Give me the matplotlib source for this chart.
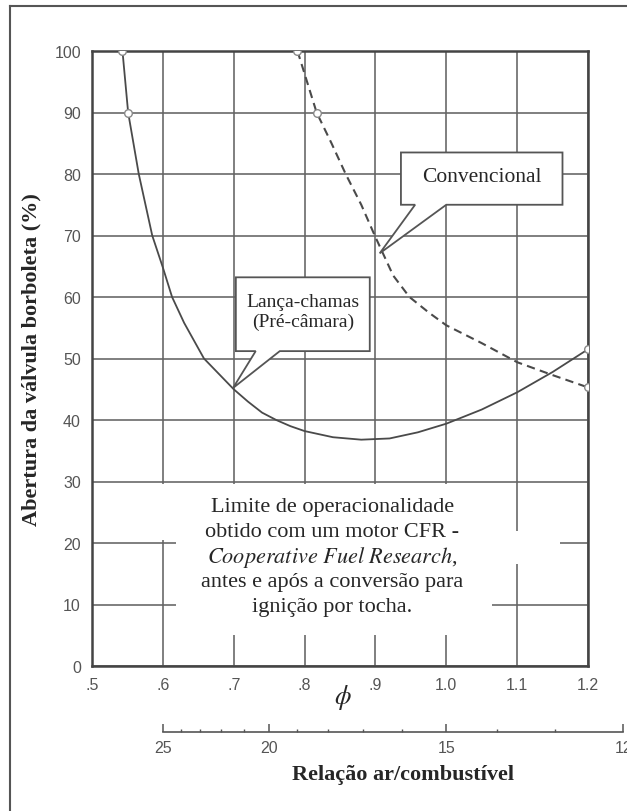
import matplotlib
matplotlib.use('Agg')
import matplotlib.pyplot as plt
from matplotlib.patches import Polygon
from matplotlib.lines import Line2D

plt.rcParams['mathtext.fontset'] = 'stix'
plt.rcParams['lines.scale_dashes'] = False

# ---------------- data ----------------
phi_torch = [0.543, 0.551, 0.566, 0.585, 0.600, 0.613, 0.630, 0.658, 0.700, 0.720,
             0.740, 0.760, 0.780, 0.800, 0.840, 0.880, 0.920, 0.960, 1.000, 1.050,
             1.100, 1.150, 1.200]
open_torch = [100, 90, 80, 70, 64.8, 60, 55.8, 50, 45.0, 43.0,
              41.2, 40.0, 39.0, 38.2, 37.2, 36.8, 37.0, 38.0, 39.4, 41.7,
              44.5, 47.8, 51.5]

phi_conv = [0.790, 0.817, 0.838, 0.858, 0.880, 0.899, 0.925, 0.948, 0.975, 1.000,
            1.050, 1.100, 1.150, 1.200]
open_conv = [100, 90, 85, 80, 75, 70, 63.5, 60, 57.5, 55.4,
             52.5, 49.4, 47.3, 45.3]

phi_ticks = [0.5, 0.6, 0.7, 0.8, 0.9, 1.0, 1.1, 1.2]
phi_labels = ['.5', '.6', '.7', '.8', '.9', '1.0', '1.1', '1.2']
open_ticks = [0, 10, 20, 30, 40, 50, 60, 70, 80, 90, 100]
afr_major = [25, 20, 15, 12]
afr_minor = [24, 23, 22, 21, 19, 18, 17, 16, 14, 13]
afr_stoich = 15.0

caption_lines = ['Limite de operacionalidade',
                 'obtido com um motor CFR -',
                 r'$\mathit{Cooperative\ Fuel\ Research}$,',
                 'antes e após a conversão para',
                 'ignição por tocha.']

# ---------------- figure ----------------
W, H = 627, 812
fig = plt.figure(figsize=(W / 100, H / 100), dpi=100)
fig.patch.set_facecolor('white')


def fx(px):
    return px / W


def fy(py):
    return 1 - py / H


serif = 'Liberation Serif'
sans = 'Liberation Sans'
ink = '#4a4a4a'
txt_col = '#262626'

ax = fig.add_axes([fx(92), fy(667), (588 - 92) / W, (667 - 52) / H])
ax.set_xlim(0.5, 1.2)
ax.set_ylim(0, 100)
ax.set_xticks(phi_ticks)
ax.set_xticklabels(phi_labels, family=sans)
ax.set_yticks(open_ticks)
ax.set_yticklabels([str(v) for v in open_ticks], family=sans)
ax.tick_params(length=0, pad=8, labelsize=11.5, labelcolor='#555555')
ax.grid(True, color='#636363', lw=1.15)
ax.set_axisbelow(True)
for s in ax.spines.values():
    s.set_linewidth(1.8)
    s.set_color('#444444')

# white area that hides the grid behind the caption
mask = Polygon([(0.595, 29.6), (1.095, 29.6), (1.095, 22), (1.16, 22), (1.16, 16.6),
                (1.095, 16.6), (1.095, 11), (1.065, 11), (1.065, 5), (0.618, 5),
                (0.618, 20.5), (0.595, 20.5)],
               closed=True, facecolor='white', edgecolor='none', zorder=1)
ax.add_patch(mask)

# curves
ax.plot(phi_torch, open_torch, color=ink, lw=1.3, zorder=3)
ax.plot(phi_conv, open_conv, color=ink, lw=1.5, dashes=(6, 3.8), zorder=3)
ax.plot(phi_torch, open_torch, ls='none', marker='o', ms=5.5, mfc='white',
        mec='#888888', mew=1.0, markevery=[0, 1, len(phi_torch) - 1], zorder=5)
ax.plot(phi_conv, open_conv, ls='none', marker='o', ms=5.5, mfc='white',
        mec='#888888', mew=1.0, markevery=[0, 1, len(phi_conv) - 1], zorder=5)

# callout boxes
box_style = dict(closed=True, facecolor='white', edgecolor='#555555', lw=1.3, zorder=4)
ax.add_patch(Polygon([(0.703, 63.2), (0.892, 63.2), (0.892, 51.2), (0.765, 51.2),
                      (0.699, 45.2), (0.731, 51.2), (0.703, 51.2)], **box_style))
ax.add_patch(Polygon([(0.936, 83.5), (1.164, 83.5), (1.164, 75.0), (1.000, 75.0),
                      (0.906, 67.1), (0.956, 75.0), (0.936, 75.0)], **box_style))

ax.text(0.798, 57.6, 'Lança-chamas\n(Pré-câmara)', family=serif, fontsize=14,
        ha='center', va='center', color=txt_col, linespacing=1.2, zorder=6)
ax.text(1.05, 79.6, 'Convencional', family=serif, fontsize=15.5,
        ha='center', va='center', color=txt_col, zorder=6)

caption_y = [25.9, 21.9, 17.8, 13.8, 9.7]
for txt, yy in zip(caption_lines, caption_y):
    ax.text(0.839, yy, txt, family=serif, fontsize=16, ha='center', va='center',
            color=txt_col, zorder=6)

# phi symbol
fig.text(fx(343), fy(698), r'$\phi$', fontsize=19, ha='center', va='center', color=txt_col)

# y label
fig.text(fx(31), fy(360), 'Abertura da válvula borboleta (%)', family=serif,
         fontweight='bold', fontsize=16, rotation=90, ha='center', va='center',
         color=txt_col)

# secondary air/fuel scale
ax2 = fig.add_axes([fx(92), fy(733), (627 - 92) / W, 0.0005])
ax2.set_xlim(0.5, 0.5 + (627 - 92) / (588 - 92) * 0.7)
ax2.set_ylim(0, 1)
ax2.patch.set_visible(False)
for k in ['top', 'left', 'right']:
    ax2.spines[k].set_visible(False)
ax2.spines['bottom'].set_bounds(afr_stoich / max(afr_major), afr_stoich / min(afr_major))
ax2.spines['bottom'].set_color('#555555')
ax2.spines['bottom'].set_linewidth(1.2)
ax2.set_yticks([])
ax2.set_xticks([afr_stoich / a for a in afr_major])
ax2.set_xticklabels([str(a) for a in afr_major], family=sans)
ax2.set_xticks([afr_stoich / a for a in afr_minor], minor=True)
ax2.tick_params(axis='x', which='major', direction='in', length=6, width=1.1,
                color='#555555', pad=6, labelsize=11.5, labelcolor='#555555')
ax2.tick_params(axis='x', which='minor', direction='in', length=2.5, width=1.0,
                color='#555555')

fig.text(fx(403), fy(775), 'Relação ar/combustível', family=serif, fontweight='bold',
         fontsize=16, ha='center', va='center', color=txt_col)

# page frame
fig.add_artist(Line2D([fx(10), 1.0], [fy(7), fy(7)], color='#555555', lw=1.5,
                      transform=fig.transFigure))
fig.add_artist(Line2D([fx(10), fx(10)], [fy(7), 0.0], color='#555555', lw=1.5,
                      transform=fig.transFigure))

fig.savefig('out.png', dpi=100, facecolor='white')
